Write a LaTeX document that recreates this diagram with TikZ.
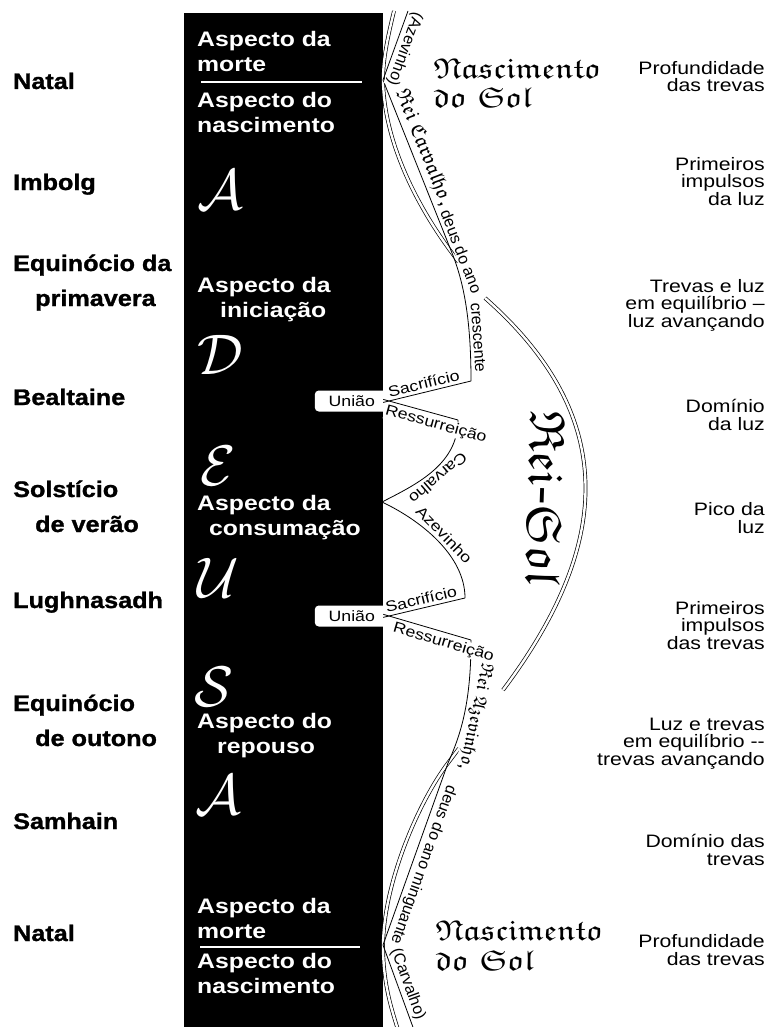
\documentclass[tikz,border=0pt]{standalone}
\usepackage{amsmath}
\usepackage{amsfonts}
\usepackage{fontspec}
\setmainfont{Liberation Sans}[FakeStretch=1.18]
\newfontfamily\pesado{Liberation Sans}[FakeStretch=1.12,FakeBold=1.2]
\newfontfamily\simples{Liberation Sans}
\usetikzlibrary{positioning,calc}

\begin{document}
\begin{tikzpicture}[x=1pt,y=-1pt,
  every node/.style={inner sep=0pt},
  festa/.style={font=\pesado\fontsize{22.5}{35}\selectfont\bfseries,align=left,anchor=base west},
  aspecto/.style={font=\fontsize{21}{25}\selectfont\bfseries,text=white,align=left,anchor=base west},
  estado/.style={font=\fontsize{18}{17.5}\selectfont,align=right,anchor=base east},
  rotulo/.style={font=\fontsize{15}{15}\selectfont,fill=white,inner sep=1pt},
  vertical/.style={font=\simples\fontsize{16}{16}\selectfont,fill=white,inner sep=1pt},
  gotico/.style={font=\fontsize{20.74}{30}\selectfont},
  nascsol/.style={font=\fontsize{20.74}{21.7}\selectfont,align=left,anchor=base west,scale=1.38,xscale=1.18},
  letra/.style={text=white,font=\fontsize{24.88}{30}\selectfont,scale=2.3},
  fio/.style={draw=black,line width=0.8pt},
  sol/.style={draw=black,line width=0.7pt,double,double distance=2.4pt},
  uniao/.style={fill=white,rounded corners=4pt,minimum width=74pt,minimum height=21pt,font=\fontsize{15}{15}\selectfont,anchor=east},
  allow upside down
]
\useasboundingbox (0,0) rectangle (770,1027);

% coluna negra da Deusa
\fill[black] (184,13) rectangle (382.5,1027);
\draw[white,line width=1.8pt] (201,82) -- (362,82);
\draw[white,line width=1.8pt] (200,947) -- (360,947);

\node[aspecto] (morteA) at (197,72) {Aspecto da\\morte};
\node[aspecto] (nascA) at (197,133) {Aspecto do\\nascimento};
\node[aspecto] (inic) at (197,317) {Aspecto da\\\hspace*{23pt}iniciação};
\node[aspecto] (consu) at (197,535) {Aspecto da\\\hspace*{12pt}consumação};
\node[aspecto] (repou) at (197,753) {Aspecto do\\\hspace*{20pt}repouso};
\node[aspecto] (morteB) at (197,938) {Aspecto da\\morte};
\node[aspecto] (nascB) at (197,993) {Aspecto do\\nascimento};

% A D E U S A
\node[letra] (letA) at (220,190) {$\mathcal{A}$};
\node[letra] (letD) at (220,355) {$\mathcal{D}$};
\node[letra] (letE) at (218,466) {$\mathcal{E}$};
\node[letra] (letU) at (218,578) {$\mathcal{U}$};
\node[letra] (letS) at (214,687) {$\mathcal{S}$};
\node[letra] (letA2) at (218,795) {$\mathcal{A}$};

% festas
\node[festa] (natal1) at (13,89) {Natal};
\node[festa] (imbolg) at (13,190) {Imbolg};
\node[festa] (eqprim) at (13,306) {Equinócio da\\\hspace*{22pt}primavera};
\node[festa] (bealt) at (13,405) {Bealtaine};
\node[festa] (solst) at (13,532) {Solstício\\\hspace*{22pt}de verão};
\node[festa] (lugh) at (13,608) {Lughnasadh};
\node[festa] (eqout) at (13,746) {Equinócio\\\hspace*{22pt}de outono};
\node[festa] (samh) at (13,829) {Samhain};
\node[festa] (natal2) at (13,941) {Natal};

% estados da luz
\node[estado] (luz1) at (765,92) {Profundidade\\das trevas};
\node[estado] (luz2) at (765,205) {Primeiros\\impulsos\\da luz};
\node[estado] (luz3) at (765,327) {Trevas e luz\\em equilíbrio --\\luz avançando};
\node[estado] (luz4) at (765,430) {Domínio\\da luz};
\node[estado] (luz5) at (765,533) {Pico da\\luz};
\node[estado] (luz6) at (765,649) {Primeiros\\impulsos\\das trevas};
\node[estado] (luz7) at (765,765) {Luz e trevas\\em equilíbrio -{}-\\trevas avançando};
\node[estado] (luz8) at (765,865) {Domínio das\\trevas};
\node[estado] (luz9) at (765,965) {Profundidade\\das trevas};

% pontos dos fios
\coordinate (natA) at (383,80);
\coordinate (natB) at (383,945);
\coordinate (cons) at (382,502);
\coordinate (x1) at (452,253);
\coordinate (x2) at (448,763);
\coordinate (s1) at (471,381);
\coordinate (r1) at (458,420);
\coordinate (s2) at (465,598);
\coordinate (r2) at (471,640);
\coordinate (solA) at (485,298);
\coordinate (solB) at (503,690);
\coordinate (iniA) at (408,11);
\coordinate (iniSol) at (394,11);
\coordinate (fimB) at (414,1030);
\coordinate (fimSol) at (398,1030);

% o Rei-Sol
\draw[sol] (iniSol) .. controls (387,40) and (383,60) .. (natA)
  .. controls (384,145) and (420,210) .. (x1) -- ($(x1)!0.2!(solA)$)
  (solA) .. controls (627,423) and (605,554) .. (solB)
  ($(x2)!0.2!(solB)$) -- (x2)
  .. controls (420,800) and (384,880) .. (natB)
  .. controls (383,985) and (392,1010) .. (fimSol);
\node[gotico,scale=2.4,rotate=-92] (reisol) at (546,498) {$\mathfrak{Rei}$-$\mathfrak{Sol}$};
\node[nascsol] (nascSolA) at (433,108) {$\mathfrak{Nascimento}$\\$\mathfrak{do\ Sol}$};
\node[nascsol] (nascSolB) at (435,970) {$\mathfrak{Nascimento}$\\$\mathfrak{do\ Sol}$};

\node[uniao] (uni1) at (389,401) {União};
\node[uniao] (uni2) at (389,616) {União};

% Rei Carvalho e Rei Azevinho
\draw[fio] (iniA) -- (natA) node[vertical,midway,sloped,above=1pt]{(Azevinho)}
  -- (x1) node[rotulo,gotico,pos=0.42,sloped,above=2pt]{$\mathfrak{Rei\ Carvalho}$,}
  .. controls (464,283) and (471,320) .. (s1) node[vertical,pos=0.02,sloped,above=2pt]{deus do ano}
  node[vertical,pos=0.74,sloped,above=2pt]{crescente};
\draw[fio] (r1) .. controls (458,465) and (415,485) .. (cons) node[rotulo,midway,sloped,above=2pt]{Carvalho}
  .. controls (420,520) and (465,555) .. (s2) node[rotulo,midway,sloped,above=2pt]{Azevinho};
\draw[fio,shorten <=-6pt] (uni1.east) -- (s1) node[rotulo,pos=0.45,sloped,above=2pt]{Sacrifício};
\draw[fio,shorten <=-6pt] (uni2.east) -- (s2) node[rotulo,pos=0.45,sloped,above=2pt]{Sacrifício};
\draw[fio] (r2) .. controls (471,700) and (462,732) .. (x2) node[rotulo,gotico,scale=0.88,pos=0.52,sloped,above=2pt]{$\mathfrak{Rei\ Azevinho}$,}
  -- (natB) node[vertical,pos=0.54,sloped,above=2pt]{deus do ano minguante}
  -- (fimB) node[vertical,midway,sloped,above=1pt]{(Carvalho)};
\draw[fio,shorten <=-6pt] (uni1.east) -- (r1) node[rotulo,pos=0.72,sloped,below=2pt]{Ressurreição};
\draw[fio,shorten <=-6pt] (uni2.east) -- (r2) node[rotulo,pos=0.7,sloped,below=2pt]{Ressurreição};
\end{tikzpicture}
\end{document}
